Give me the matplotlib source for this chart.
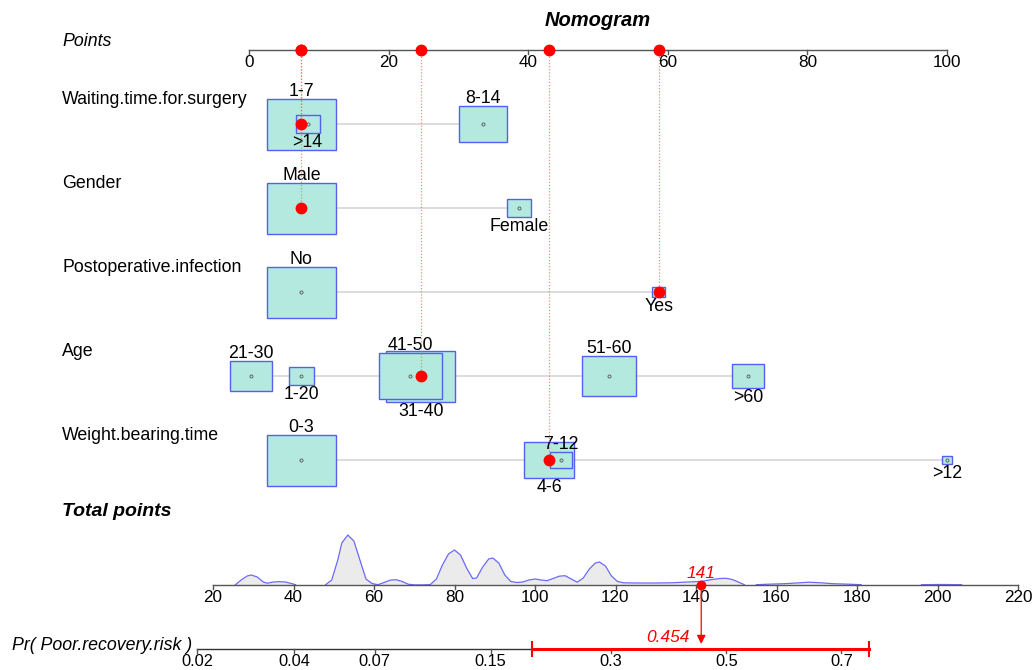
import numpy as np
import matplotlib
matplotlib.use("Agg")
import matplotlib.pyplot as plt

plt.rcParams['font.family'] = ['Liberation Sans', 'DejaVu Sans']

# ---------------- data ----------------
points_ticks = [0, 20, 40, 60, 80, 100]
total_ticks = [20, 40, 60, 80, 100, 120, 140, 160, 180, 200, 220]
prob_ticks = [0.02, 0.04, 0.07, 0.15, 0.3, 0.5, 0.7]
prob_tick_labels = ["0.02", "0.04", "0.07", "0.15", "0.3", "0.5", "0.7"]

var_names = ["Waiting.time.for.surgery", "Gender", "Postoperative.infection",
             "Age", "Weight.bearing.time"]

wait_cats = ["1-7", "8-14", ">14"]
wait_pts = [7.5, 33.5, 8.4]
wait_n = [92, 45, 11]

gender_cats = ["Male", "Female"]
gender_pts = [7.5, 38.7]
gender_n = [132, 16]

infect_cats = ["No", "Yes"]
infect_pts = [7.5, 58.7]
infect_n = [143, 5]

age_cats = ["1-20", "21-30", "31-40", "41-50", "51-60", ">60"]
age_pts = [7.5, 0.3, 24.6, 23.1, 51.6, 71.5]
age_n = [6, 17, 47, 39, 29, 10]

weight_cats = ["0-3", "4-6", "7-12", ">12"]
weight_pts = [7.5, 43.0, 44.7, 100.0]
weight_n = [90, 47, 9, 2]

selected = ["1-7", "Male", "Yes", "31-40", "4-6"]

# logistic link: logit(p) = intercept + slope * total points
intercept = -4.37
slope = 0.02962
ci_low, ci_high = 0.193, 0.741

# density of total points (relative heights)
dens_t1 = [25.5, 27, 28.5, 29.5, 31, 32.5, 33.5, 35, 36.5, 38, 39.5, 40.5]
dens_h1 = [0, 5, 9, 10, 8, 3, 1.8, 3, 3.3, 3, 1.5, 0.3]
dens_t2 = [48, 49.5, 51, 52, 53.5, 55, 56.5, 58, 59.5, 61, 62.5, 64, 65.5, 67, 68.5,
           70, 72, 74, 75.5, 77, 78.5, 80, 81.5, 83, 84.5, 85.5, 87, 88.5, 89.5,
           91, 92.5, 94, 95.5, 97, 98.5, 100, 101.5, 103, 104.5, 106, 107.5, 109,
           110.5, 112, 113.5, 115, 116, 117.5, 119, 120.5, 122, 125, 130, 134, 137,
           140, 142, 144, 146, 147.5, 149, 150.5, 152]
dens_h2 = [0.3, 5, 25, 42, 50, 44, 25, 6, 1.5, 0.3, 2.5, 4.8, 5.3, 3.5, 0.8,
           0.1, 0.1, 0.4, 6, 20, 31, 35, 30, 17, 6.5, 7, 18, 26, 27,
           22, 10, 3.5, 2.5, 3, 5, 6, 5, 4.3, 6.5, 8.8, 9.3, 6,
           2.8, 7, 16, 22, 23, 19, 9, 3.5, 2.2, 2, 2, 2.2, 2.8,
           3.3, 4, 5.5, 6.5, 6.7, 5.5, 3, 0.3]
dens_t3 = [155, 158, 162, 165, 168, 171, 174, 178, 181]
dens_h3 = [0.3, 0.8, 1.3, 2, 2.8, 2.2, 1.3, 0.8, 0.3]
dens_t4 = [196, 201, 206]
dens_h4 = [0.3, 0.5, 0.3]

# ---------------- layout ----------------
W, H = 1035, 670
fig = plt.figure(figsize=(W / 100, H / 100), dpi=100)

PX0, PXS = 249.0, 6.98          # points axis: pixel of 0, pixels per point
TX0, TXS = 213.0, 4.025         # total axis: pixel of 20, pixels per total point

ax = fig.add_axes([0, 0, 1, 1])
ax.set_xlim(-PX0 / PXS, (W - PX0) / PXS)
ax.set_ylim(H, 0)
ax.axis('off')

ax2 = fig.add_axes([0, 0, 1, 1])
ax2.patch.set_alpha(0)
ax2.set_xlim(20 - TX0 / TXS, 20 + (W - TX0) / TXS)
ax2.set_ylim(H, 0)
ax2.axis('off')

FS = 12.8
TFS = 12.3
box_fill = '#B3E9DF'
box_edge = '#5560F0'
TICKLEN = 4
LABOFF = 5

def ftext(xp, yp, s, **kw):
    fig.text(xp / W, 1 - yp / H, s, **kw)

# Title and labels
ftext(598, 21, "Nomogram", ha='center', va='center', fontsize=14.5,
      fontweight='bold', style='italic')
ftext(62, 42, "Points", ha='left', va='center', fontsize=FS, style='italic')

# Points axis
AY = 50
ax.plot([points_ticks[0], points_ticks[-1]], [AY, AY], color='#555555', lw=1.0, zorder=2)
for t in points_ticks:
    ax.plot([t, t], [AY, AY + TICKLEN], color='#555555', lw=1.0, zorder=2)
    ax.text(t, AY + LABOFF, str(t), ha='center', va='top', fontsize=TFS)

variables = [
    (wait_cats, wait_pts, wait_n),
    (gender_cats, gender_pts, gender_n),
    (infect_cats, infect_pts, infect_n),
    (age_cats, age_pts, age_n),
    (weight_cats, weight_pts, weight_n),
]

BOXW = 69 / PXS   # max box width in points units
BOXH = 51         # max box height in px
total = 0.0
for i, (cats, pts, ns) in enumerate(variables):
    yc = 124 + 84 * i
    ftext(62, yc - 25, var_names[i], ha='left', va='center', fontsize=FS)
    ax.plot([min(pts), max(pts)], [yc, yc], color='#D9D9D9', lw=1.3, zorder=1)
    nmax = max(ns)
    order = np.argsort(pts)
    rank = {int(k): r for r, k in enumerate(order)}
    for j, (c, p, n) in enumerate(zip(cats, pts, ns)):
        f = np.sqrt(n / nmax)
        w, h = BOXW * f, BOXH * f
        ax.add_patch(plt.Rectangle((p - w / 2, yc - h / 2), w, h, facecolor=box_fill,
                                   edgecolor=box_edge, lw=1.0, zorder=3 + j))
        ax.plot(p, yc, 'o', ms=2.2, mfc='none', mec='#555555', mew=0.6, zorder=3 + j)
        if rank[j] % 2 == 0:
            ax.text(p, yc - h / 2 + 1, c, ha='center', va='bottom', fontsize=FS, zorder=20)
        else:
            ax.text(p, yc + h / 2 + 1, c, ha='center', va='top', fontsize=FS, zorder=20)
        if c in selected:
            total += p
            ax.plot([p, p], [AY, yc], color='#FF6060', lw=0.9, ls=(0, (1, 1.5)),
                    alpha=0.75, zorder=25)
            ax.plot(p, yc, 'o', color='red', ms=7.5, zorder=30)
            ax.plot(p, AY, 'o', color='red', ms=7.5, zorder=30)

# ---------------- total points ----------------
ftext(62, 511, "Total points", ha='left', va='center', fontsize=14,
      fontweight='bold', style='italic')
TY = 585
for tt, hh in [(dens_t1, dens_h1), (dens_t2, dens_h2), (dens_t3, dens_h3), (dens_t4, dens_h4)]:
    tt = np.array(tt)
    yy = TY - np.array(hh)
    ax2.fill_between(tt, yy, TY, color='#EBEBEB', lw=0, zorder=1)
    ax2.plot(tt, yy, color='#6A6AF5', lw=0.9, zorder=2)

ax2.plot([total_ticks[0], total_ticks[-1]], [TY, TY], color='#555555', lw=1.0, zorder=3)
for t in total_ticks:
    ax2.plot([t, t], [TY, TY + TICKLEN], color='#555555', lw=1.0, zorder=3)
    ax2.text(t, TY + LABOFF, str(t), ha='center', va='top', fontsize=TFS)

ax2.plot(total, TY, 'o', color='red', ms=6, zorder=10)
ax2.text(total, TY - 4, f"{round(total):d}", ha='center', va='bottom', color='red',
         fontsize=12.5, style='italic', zorder=10)

# ---------------- probability ----------------
def p2t(p):
    p = np.asarray(p, dtype=float)
    return (np.log(p / (1 - p)) - intercept) / slope

PY = 649
ftext(192, PY - 3, "Pr( Poor.recovery.risk )", ha='right', va='center', fontsize=FS,
      style='italic')
ax2.plot([p2t(prob_ticks[0]), p2t(ci_high)], [PY, PY], color='#333333', lw=1.0, zorder=3)
for p, lab in zip(prob_ticks, prob_tick_labels):
    x = p2t(p)
    ax2.plot([x, x], [PY, PY + TICKLEN], color='#555555', lw=1.0, zorder=3)
    ax2.text(x, H - 1, lab, ha='center', va='bottom', fontsize=11.8)

xl, xh = p2t(ci_low), p2t(ci_high)
ax2.plot([xl, xh], [PY, PY], color='red', lw=2.2, zorder=5)
ax2.plot([xl, xl], [PY - 7, PY + 7], color='red', lw=1.5, zorder=5)
ax2.plot([xh, xh], [PY - 7, PY + 7], color='red', lw=1.5, zorder=5)

prob = 1 / (1 + np.exp(-(intercept + slope * total)))
ax2.annotate('', xy=(total, PY - 5), xytext=(total, TY + 1),
             arrowprops=dict(arrowstyle='-|>', color='red', lw=0.9,
                             mutation_scale=13, shrinkA=0, shrinkB=0), zorder=6)
ax2.text(total - 3, PY - 11, f"{prob:.3f}", ha='right', va='center', color='red',
         fontsize=12.5, style='italic', zorder=6)

fig.savefig("out.png", dpi=100)
